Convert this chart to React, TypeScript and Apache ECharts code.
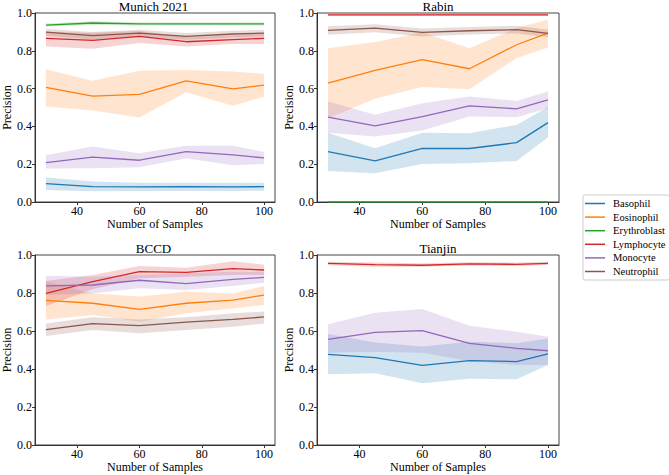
import React, { useEffect, useRef } from "react";
import * as echarts from "echarts";

const SAMPLES = [30, 45, 60, 75, 90, 100];
const CELL_TYPES = ["Basophil", "Eosinophil", "Erythroblast", "Lymphocyte", "Monocyte", "Neutrophil"];
const COLORS = ["#1f77b4", "#ff7f0e", "#2ca02c", "#d62728", "#9467bd", "#8c564b"];
const PANEL_TITLES = ["Munich 2021", "Rabin", "BCCD", "Tianjin"];
const Y_TICKS = [0, 0.2, 0.4, 0.6, 0.8, 1.0];
const X_TICKS = [40, 60, 80, 100];

// rows in CELL_TYPES order; null = not present
const munichMean = [
  [0.097, 0.081, 0.080, 0.081, 0.080, 0.081],
  [0.606, 0.560, 0.569, 0.641, 0.599, 0.618],
  [0.936, 0.947, 0.942, 0.942, 0.942, 0.942],
  [0.866, 0.855, 0.876, 0.848, 0.859, 0.866],
  [0.208, 0.237, 0.221, 0.267, 0.249, 0.233],
  [0.899, 0.880, 0.894, 0.876, 0.889, 0.894],
];
const munichLow = [
  [0.064, 0.057, 0.058, 0.058, 0.058, 0.060],
  [0.505, 0.484, 0.447, 0.581, 0.509, 0.558],
  [0.928, 0.936, 0.934, 0.934, 0.934, 0.934],
  [0.823, 0.811, 0.841, 0.823, 0.836, 0.836],
  [0.177, 0.178, 0.184, 0.231, 0.194, 0.201],
  [0.880, 0.860, 0.876, 0.858, 0.870, 0.876],
];
const munichHigh = [
  [0.129, 0.108, 0.102, 0.102, 0.102, 0.102],
  [0.703, 0.641, 0.694, 0.698, 0.691, 0.678],
  [0.944, 0.956, 0.950, 0.950, 0.950, 0.950],
  [0.900, 0.895, 0.905, 0.872, 0.882, 0.893],
  [0.247, 0.293, 0.258, 0.297, 0.297, 0.265],
  [0.915, 0.900, 0.912, 0.894, 0.906, 0.912],
];

const rabinMean = [
  [0.267, 0.217, 0.284, 0.283, 0.314, 0.420],
  [0.629, 0.696, 0.753, 0.705, 0.832, 0.894],
  [0.0, 0.0, 0.0, 0.0, 0.0, 0.0],
  [0.990, 0.990, 0.990, 0.990, 0.990, 0.990],
  [0.449, 0.403, 0.452, 0.509, 0.493, 0.541],
  [0.908, 0.920, 0.898, 0.906, 0.912, 0.892],
];
const rabinLow = [
  [0.164, 0.152, 0.201, 0.205, 0.217, 0.343],
  [0.443, 0.546, 0.608, 0.597, 0.761, 0.818],
  [0.0, 0.0, 0.0, 0.0, 0.0, 0.0],
  [0.985, 0.985, 0.985, 0.985, 0.985, 0.985],
  [0.367, 0.346, 0.378, 0.452, 0.449, 0.496],
  [0.885, 0.898, 0.876, 0.886, 0.892, 0.872],
];
const rabinHigh = [
  [0.367, 0.284, 0.367, 0.364, 0.408, 0.502],
  [0.813, 0.846, 0.898, 0.813, 0.920, 0.965],
  [0.0, 0.0, 0.0, 0.0, 0.0, 0.0],
  [0.995, 0.995, 0.995, 0.995, 0.995, 0.995],
  [0.532, 0.461, 0.523, 0.558, 0.535, 0.585],
  [0.930, 0.940, 0.918, 0.926, 0.932, 0.912],
];

const bccdMean = [
  null,
  [0.761, 0.746, 0.714, 0.746, 0.763, 0.789],
  null,
  [0.798, 0.860, 0.912, 0.909, 0.928, 0.921],
  [0.837, 0.842, 0.867, 0.849, 0.872, 0.882],
  [0.607, 0.639, 0.628, 0.647, 0.661, 0.674],
];
const bccdLow = [
  null,
  [0.661, 0.684, 0.649, 0.693, 0.719, 0.737],
  null,
  [0.732, 0.820, 0.877, 0.886, 0.895, 0.895],
  [0.789, 0.798, 0.825, 0.816, 0.837, 0.854],
  [0.574, 0.605, 0.588, 0.605, 0.623, 0.640],
];
const bccdHigh = [
  null,
  [0.860, 0.798, 0.781, 0.807, 0.798, 0.837],
  null,
  [0.863, 0.895, 0.942, 0.933, 0.967, 0.949],
  [0.891, 0.886, 0.895, 0.904, 0.912, 0.912],
  [0.640, 0.672, 0.661, 0.672, 0.693, 0.702],
];

const tianjinMean = [
  [0.477, 0.460, 0.419, 0.444, 0.439, 0.479],
  null,
  null,
  [0.956, 0.949, 0.946, 0.953, 0.951, 0.956],
  [0.556, 0.593, 0.602, 0.535, 0.509, 0.496],
  null,
];
const tianjinLow = [
  [0.372, 0.377, 0.325, 0.349, 0.346, 0.421],
  null,
  null,
  [0.946, 0.938, 0.938, 0.944, 0.942, 0.947],
  [0.486, 0.491, 0.486, 0.442, 0.421, 0.421],
  null,
];
const tianjinHigh = [
  [0.584, 0.540, 0.518, 0.544, 0.535, 0.561],
  null,
  null,
  [0.964, 0.960, 0.956, 0.962, 0.960, 0.964],
  [0.635, 0.696, 0.716, 0.628, 0.596, 0.570],
  null,
];

const PANELS = [
  { mean: munichMean, low: munichLow, high: munichHigh },
  { mean: rabinMean, low: rabinLow, high: rabinHigh },
  { mean: bccdMean, low: bccdLow, high: bccdHigh },
  { mean: tianjinMean, low: tianjinLow, high: tianjinHigh },
];

const FONT = "Liberation Serif";

const GRIDS = [
  { left: 32, top: 13, width: 243, height: 189 },
  { left: 317, top: 13, width: 242, height: 189 },
  { left: 32, top: 255, width: 243, height: 190 },
  { left: 317, top: 255, width: 242, height: 190 },
];

export default function App() {
  const ref = useRef<HTMLDivElement>(null);
  useEffect(() => {
    if (!ref.current) return;
    const chart = echarts.init(ref.current, null, { renderer: "svg" });
    const series: any[] = [];
    PANELS.forEach((p, pi) => {
      p.mean.forEach((row, si) => {
        if (!row) return;
        const low = p.low[si] as number[];
        const high = p.high[si] as number[];
        series.push({
          type: "custom",
          name: `_band${pi}${si}`,
          xAxisIndex: pi,
          yAxisIndex: pi,
          silent: true,
          z: 1,
          data: [[SAMPLES[0], low[0]]],
          renderItem: (_params: any, api: any) => {
            const top = SAMPLES.map((x, i) => api.coord([x, high[i]]));
            const bot = SAMPLES.map((x, i) => api.coord([x, low[i]])).reverse();
            return {
              type: "polygon",
              shape: { points: top.concat(bot) },
              style: { fill: COLORS[si], opacity: 0.2 },
            };
          },
        });
      });
    });
    PANELS.forEach((p, pi) => {
      p.mean.forEach((row, si) => {
        if (!row) return;
        series.push({
          type: "line",
          name: CELL_TYPES[si],
          xAxisIndex: pi,
          yAxisIndex: pi,
          data: SAMPLES.map((x, i) => [x, row[i]]),
          symbol: "none",
          color: COLORS[si],
          lineStyle: { color: COLORS[si], width: 1.3 },
          z: 3,
        });
      });
    });

    const axisLineStyle = { color: "#333", width: 1 };
    const option: any = {
      animation: false,
      backgroundColor: "#fff",
      textStyle: { fontFamily: FONT },
      title: PANEL_TITLES.map((t, i) => ({
        text: t,
        left: GRIDS[i].left + GRIDS[i].width / 2,
        top: GRIDS[i].top - 13,
        textAlign: "center",
        padding: 0,
        textStyle: { fontFamily: FONT, fontSize: 13, fontWeight: "normal", color: "#000" },
      })),
      grid: GRIDS.map((g) => ({ ...g, show: true, borderColor: "#444", borderWidth: 1, backgroundColor: "transparent", containLabel: false })),
      xAxis: GRIDS.map((_, i) => ({
        type: "value",
        gridIndex: i,
        min: 26.5,
        max: 103.5,
        name: "Number of Samples",
        nameLocation: "middle",
        nameGap: 15,
        nameTextStyle: { fontFamily: FONT, fontSize: 12, color: "#000" },
        axisLine: { show: true, lineStyle: axisLineStyle },
        axisTick: { show: true, length: 3, customValues: X_TICKS, lineStyle: axisLineStyle },
        axisLabel: { customValues: X_TICKS, fontFamily: FONT, fontSize: 12, color: "#000", margin: 3 },
        splitLine: { show: false },
      })),
      yAxis: GRIDS.map((_, i) => ({
        type: "value",
        gridIndex: i,
        min: 0,
        max: 1,
        interval: 0.2,
        name: "Precision",
        nameLocation: "middle",
        nameRotate: 90,
        nameGap: 22,
        nameTextStyle: { fontFamily: FONT, fontSize: 12, color: "#000" },
        axisLine: { show: true, lineStyle: axisLineStyle },
        axisTick: { show: true, length: 3, lineStyle: axisLineStyle },
        axisLabel: {
          customValues: Y_TICKS,
          formatter: (v: number) => v.toFixed(1),
          fontFamily: FONT,
          fontSize: 12,
          color: "#000",
          margin: 3,
        },
        splitLine: { show: false },
      })),
      legend: {
        data: CELL_TYPES,
        orient: "vertical",
        left: 583,
        top: 195,
        icon: "rect",
        itemWidth: 20,
        itemHeight: 1.5,
        itemGap: 2.6,
        padding: [3, 4, 3, 2],
        borderColor: "#ccc",
        borderWidth: 1,
        borderRadius: 2,
        textStyle: { fontFamily: FONT, fontSize: 10.5, color: "#000", padding: [0, 0, 0, 3] },
        selectedMode: false,
      },
      series,
    };
    chart.setOption(option);
    return () => chart.dispose();
  }, []);
  return <div ref={ref} style={{ position: "fixed", left: 0, top: 0, width: 669, height: 475 }} />;
}
